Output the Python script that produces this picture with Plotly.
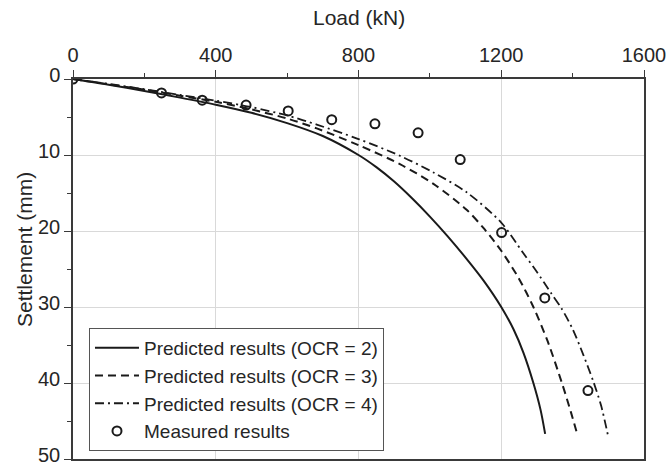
import plotly.graph_objects as go

# Predicted curves
load_ocr2 = [0, 100, 200, 300, 400, 500, 600, 700, 800, 850, 900, 950, 1000, 1050, 1100, 1150, 1200, 1235, 1262, 1290, 1310, 1323]
sett_ocr2 = [0, 0.75, 1.58, 2.45, 3.38, 4.45, 5.8, 7.5, 10.0, 11.6, 13.5, 15.7, 18.1, 20.7, 23.5, 26.5, 30.0, 33.0, 36.0, 40.0, 43.5, 46.7]

load_ocr3 = [0, 100, 200, 300, 400, 500, 600, 683, 800, 916, 1010, 1103, 1150, 1200, 1250, 1290, 1330, 1370, 1395, 1414]
sett_ocr3 = [0, 0.7, 1.4, 2.2, 3.0, 4.0, 5.2, 6.5, 8.7, 11.2, 13.8, 17.2, 19.6, 22.6, 26.3, 30.0, 34.5, 40.0, 43.8, 46.9]

load_ocr4 = [0, 100, 200, 300, 400, 500, 600, 683, 800, 916, 1010, 1103, 1200, 1260, 1300, 1340, 1369, 1400, 1430, 1458, 1480, 1500]
sett_ocr4 = [0, 0.65, 1.35, 2.1, 2.85, 3.7, 4.8, 6.0, 7.9, 10.1, 12.3, 14.9, 18.9, 22.8, 25.4, 28.2, 30.2, 32.9, 36.3, 39.8, 43.0, 47.1]

# Measured results
load_meas = [0, 248, 362, 485, 603, 725, 846, 967, 1085, 1201, 1322, 1443]
sett_meas = [0, 1.83, 2.78, 3.43, 4.2, 5.35, 5.9, 7.08, 10.6, 20.2, 28.8, 41.0]

x_ticks = [0, 400, 800, 1200, 1600]
y_ticks = [0, 10, 20, 30, 40, 50]

FONT = "Liberation Sans, Arial, sans-serif"
TXT = "#262626"
AX = "#3a3a3a"

TOP, BOT = 79, 459
PH = BOT - TOP

fig = go.Figure()
fig.add_trace(go.Scatter(x=load_ocr2, y=sett_ocr2, mode="lines", name="Predicted results (OCR = 2)",
                         line=dict(color="#1a1a1a", width=2, shape="spline", smoothing=0.8)))
fig.add_trace(go.Scatter(x=load_ocr3, y=sett_ocr3, mode="lines", name="Predicted results (OCR = 3)",
                         line=dict(color="#1a1a1a", width=2, dash="8px,5px", shape="spline", smoothing=0.8)))
fig.add_trace(go.Scatter(x=load_ocr4, y=sett_ocr4, mode="lines", name="Predicted results (OCR = 4)",
                         line=dict(color="#1a1a1a", width=1.8, dash="9px,4px,2px,4px", shape="spline", smoothing=0.8)))
fig.add_trace(go.Scatter(x=load_meas, y=sett_meas, mode="markers", name="Measured results",
                         marker=dict(symbol="circle-open", size=9, color="#1a1a1a", line=dict(width=2))))

fig.update_layout(
    width=671, height=468,
    margin=dict(l=73, r=27, t=TOP, b=468 - BOT, autoexpand=False),
    paper_bgcolor="white", plot_bgcolor="white",
    font=dict(family=FONT, size=20, color=TXT),
    showlegend=True,
    legend=dict(x=0.028, y=(BOT - 328) / PH, xanchor="left", yanchor="top",
                bordercolor="#555555", borderwidth=1, bgcolor="white",
                font=dict(family=FONT, size=19, color=TXT),
                tracegroupgap=0, itemwidth=44),
    annotations=[
        dict(text="Load (kN)", xref="paper", yref="paper", x=0.5, y=1,
             xanchor="center", yanchor="middle", yshift=62, showarrow=False,
             font=dict(family=FONT, size=21, color=TXT)),
        dict(text="Settlement (mm)", xref="paper", yref="paper", x=0, y=(BOT - 250) / PH,
             xanchor="center", yanchor="middle", xshift=-48, textangle=-90, showarrow=False,
             font=dict(family=FONT, size=21, color=TXT)),
    ],
)
fig.update_xaxes(
    side="top", range=[0, 1600], tickmode="array", tickvals=x_ticks,
    ticktext=[str(v) for v in x_ticks], automargin=False,
    ticks="outside", ticklen=7, tickwidth=1.2, tickcolor=AX,
    showline=True, linecolor=AX, linewidth=1.5, mirror=True,
    showgrid=True, gridcolor="#d9d9d9", gridwidth=1, zeroline=False,
    minor=dict(ticks="outside", ticklen=4, tickwidth=1.2, tickcolor=AX, dtick=200, showgrid=False, tick0=0),
    tickfont=dict(size=20, color=TXT), ticklabeloverflow="allow",
)
fig.update_yaxes(
    range=[50, 0], tickmode="array", tickvals=y_ticks,
    ticktext=[str(v) for v in y_ticks], automargin=False,
    ticks="outside", ticklen=7, tickwidth=1.2, tickcolor=AX,
    showline=True, linecolor=AX, linewidth=1.5, mirror=True,
    showgrid=True, gridcolor="#d9d9d9", gridwidth=1, zeroline=False,
    minor=dict(ticks="outside", ticklen=4, tickwidth=1.2, tickcolor=AX, dtick=5, showgrid=False, tick0=0),
    tickfont=dict(size=20, color=TXT), ticklabeloverflow="allow", ticklabelshift=4,
)

fig.write_html("out.html")
